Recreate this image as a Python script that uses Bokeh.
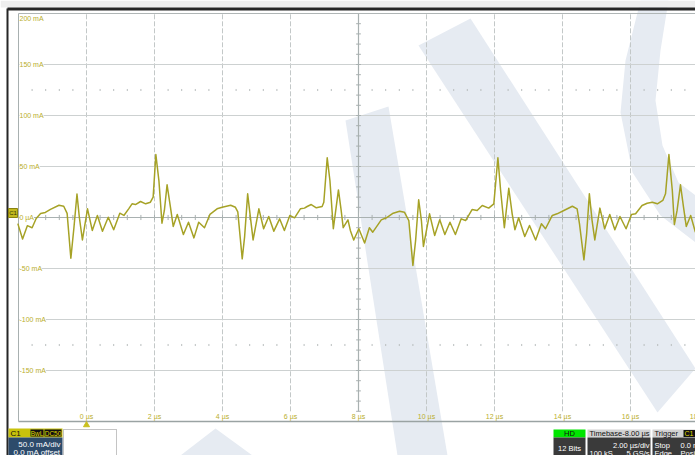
import numpy as np
from bokeh.plotting import figure
from bokeh.models import Range1d, ColumnDataSource, LabelSet
from bokeh.core.properties import value
from bokeh.embed import file_html
from bokeh.resources import INLINE

W, H = 695, 455

# ---------------- data ----------------
time_us = [-2.02, -1.88, -1.74, -1.60, -1.48, -1.35, -1.21, -1.06, -0.81, -0.67, -0.57, -0.46, -0.37, -0.28, -0.21,
           -0.12, 0.03, 0.17, 0.32, 0.47, 0.64, 0.80, 0.98, 1.10, 1.24, 1.34, 1.44, 1.59, 1.74, 1.88, 1.96, 2.04,
           2.13, 2.22, 2.29, 2.37, 2.47, 2.55, 2.67, 2.85, 3.00, 3.16, 3.30, 3.47, 3.63, 3.84, 3.99, 4.24, 4.38,
           4.45, 4.58, 4.65, 4.74, 4.82, 4.90, 5.07, 5.21, 5.36, 5.51, 5.68, 5.82, 5.98, 6.12, 6.29, 6.41, 6.49,
           6.61, 6.76, 6.93, 6.98, 7.08, 7.16, 7.26, 7.41, 7.49, 7.55, 7.69, 7.76, 7.86, 8.01, 8.18, 8.32, 8.42,
           8.67, 8.82, 9.02, 9.21, 9.35, 9.48, 9.60, 9.68, 9.77, 9.85, 9.91, 10.09, 10.24, 10.39, 10.54, 10.69,
           10.85, 11.02, 11.15, 11.34, 11.49, 11.64, 11.83, 11.98, 12.10, 12.18, 12.29, 12.42, 12.52, 12.60, 12.71,
           12.89, 13.03, 13.21, 13.38, 13.50, 13.70, 13.84, 14.04, 14.29, 14.43, 14.50, 14.63, 14.71, 14.79, 14.87,
           14.95, 15.10, 15.24, 15.39, 15.54, 15.69, 15.87, 16.03, 16.15, 16.34, 16.49, 16.64, 16.79, 16.95, 17.03,
           17.13, 17.23, 17.29, 17.37, 17.47, 17.56, 17.64, 17.77, 17.91]
current_mA = [-6, -21, -8, -10, -1, 4, 5, 8, 12, 11, 4, -40, -10, 23, 0,
              -22, 8.5, -12.7, 2, -13.4, 0.3, -12, 4.2, 2, 8.5, 13.4, 12.7, 15.7, 13.4, 15, 20, 61.7,
              36, -5.6, 6.9, 32, 10, -8.8, 3, -16.7, -4.6, -20, -4.6, -10, 3, 8.5, 10, 12, 10,
              5.5, -40.5, -19, 23.2, 0.3, -22, 8.5, -11, 1, -13.4, -1.3, -12.7, 2, -0.3, 8.5, 9.2, 10.8,
              12.7, 9.5, 10.8, 15, 58.5, 36, -11, 27, 6.9, -10, -2.3, -12.7, -22, -11, -25, -10, -14.4,
              -2.3, -0.3, 4.2, 6.2, 5.2, -3, -47, -22.5, 17.3, -3, -28.4, 3.6, -17.6, -2.3, -16.7, -4.6,
              -16.7, -1.3, -3, 7.8, 6.9, 11.8, 9.2, 13.4, 58.5, 26.5, -10, 28.7, 3.6, -12, -0.3,
              -18.6, -7.8, -22, -6.2, -11, 2, 3.6, 6.9, 11, 8.5, -6.2, -41.5, -16, 23.2, -3,
              -22, 9.2, -11, 3, -12, 1, -11, 3, 3.6, 11.8, 14, 15, 13.4, 16.7, 23.2,
              61.7, 26.5, -6.9, 6.9, 32, 10, -8.8, 2, -14.4]

y_ticks = [200, 150, 100, 50, 0, -50, -100, -150]
y_labels = ["200 mA", "150 mA", "100 mA", "50 mA", "0 µA", "-50 mA", "-100 mA", "-150 mA"]
x_ticks = [0, 2, 4, 6, 8, 10, 12, 14, 16, 18]
x_labels = ["0 µs", "2 µs", "4 µs", "6 µs", "8 µs", "10 µs", "12 µs", "14 µs", "16 µs", "18 µs"]

t_min, t_max, t_div = -2.0, 18.0, 2.0
i_min, i_max, i_div = -200.0, 200.0, 50.0
trigger_time = 0.0
center_time = 8.0

# ---------------- geometry (pixel <-> data) ----------------
X0_PX, PX_PER_US = 86.0, 34.0
Y0_PX, PX_PER_MA = 217.0, 51.0 / 50.0


def X(px):
    return (px - X0_PX) / PX_PER_US


def Y(py):
    return (Y0_PX - py) / PX_PER_MA


p = figure(width=W, height=H, output_backend="svg", toolbar_location=None,
           x_range=Range1d(X(0), X(W)), y_range=Range1d(Y(H), Y(0)),
           min_border=0, min_border_left=0, min_border_right=0, min_border_top=0, min_border_bottom=0)
p.axis.visible = False
p.grid.visible = False
p.outline_line_color = None
p.background_fill_color = "white"
p.border_fill_color = "white"

FONT = value("Liberation Sans")
LBL = "#b9ae2c"
TRACE = "#a6a226"
WM = "#e6ebf2"

# ---------------- watermark (decoration) ----------------
wm_polys_px = [
    [(345, 120), (388, 106), (447, 455), (397, 455)],
    [(418, 45), (470, 18), (695, 368), (657, 412)],
    [(640, 0), (668, 0), (660, 50), (655, 100), (662, 145), (678, 182), (695, 195), (695, 242),
     (660, 215), (632, 172), (620, 112), (625, 60)],
    [(180, 455), (215, 428), (252, 455)],
]
p.patches([[X(a) for a, b in poly] for poly in wm_polys_px],
          [[Y(b) for a, b in poly] for poly in wm_polys_px],
          fill_color=WM, line_color=None)

# ---------------- grid ----------------
v_grid = list(np.arange(t_min, t_max + 0.01, t_div))
p.segment(x0=v_grid, x1=v_grid, y0=[i_min + 10] * len(v_grid), y1=[i_max] * len(v_grid),
          line_color="#c3c8c8", line_width=1, line_dash="5 2")
h_grid = [v for v in np.arange(i_min + i_div, i_max, i_div) if v != 0]
p.segment(x0=[t_min] * len(h_grid), x1=[t_max] * len(h_grid), y0=h_grid, y1=h_grid,
          line_color="#cdd1d1", line_width=1)

# dotted rows at +/-125 mA (minor subdivisions)
minor_t = [t for t in np.arange(t_min, t_max + 0.01, t_div / 5) if abs(t / t_div - round(t / t_div)) > 1e-6]
for lvl in (125.0, -125.0):
    p.segment(x0=minor_t, x1=minor_t, y0=[lvl - 1] * len(minor_t), y1=[lvl + 1] * len(minor_t),
              line_color="#b9bebe", line_width=1)

# center axes with minor ticks
p.segment(x0=[t_min], x1=[t_max], y0=[0], y1=[0], line_color="#a9b1b1", line_width=1.2)
p.segment(x0=[center_time], x1=[center_time], y0=[i_min + 10], y1=[i_max], line_color="#a9b1b1", line_width=1.2)
all_minor_t = list(np.arange(t_min, t_max + 0.01, t_div / 5))
p.segment(x0=all_minor_t, x1=all_minor_t, y0=[-2.5] * len(all_minor_t), y1=[2.5] * len(all_minor_t),
          line_color="#a9b1b1", line_width=1)
minor_i = list(np.arange(i_min, i_max + 0.01, i_div / 5))
p.segment(x0=[center_time - 0.07] * len(minor_i), x1=[center_time + 0.07] * len(minor_i), y0=minor_i, y1=minor_i,
          line_color="#a9b1b1", line_width=1)

# plot borders
p.segment(x0=[t_min], x1=[t_min], y0=[i_min], y1=[i_max], line_color="#a8b0b0", line_width=1)
p.segment(x0=[t_min], x1=[X(W)], y0=[i_max], y1=[i_max], line_color="#b0b6b6", line_width=1)
p.segment(x0=[t_min], x1=[X(W)], y0=[i_min], y1=[i_min], line_color="#9aa3a3", line_width=1.5)

# outer dark frame
p.quad(left=[X(0)], right=[X(W)], top=[Y(0)], bottom=[Y(7)], fill_color="#eeeeee", line_color=None)
p.segment(x0=[X(7)], x1=[X(W)], y0=[Y(8.5)], y1=[Y(8.5)], line_color="#262626", line_width=3)
p.segment(x0=[X(7)], x1=[X(7)], y0=[Y(8)], y1=[Y(H)], line_color="#262626", line_width=2)

# ---------------- trace ----------------
p.line(time_us, current_mA, line_color=TRACE, line_width=1.5, line_join="round")

# ---------------- axis labels ----------------
ylab_y = [min(v, i_max - 5) for v in y_ticks]
ysrc = ColumnDataSource(dict(x=[X(19)] * len(y_ticks), y=ylab_y, t=y_labels))
p.add_layout(LabelSet(x="x", y="y", text="t", source=ysrc, text_font=FONT, text_font_size="7px",
                      text_color=LBL, text_align="left", text_baseline="middle",
                      background_fill_color="white", x_offset=0, y_offset=0))
p.text(x=x_ticks, y=[Y(416)] * len(x_ticks), text=x_labels, text_font=FONT, text_font_size="7px",
       text_color=LBL, text_align="center", text_baseline="middle")

# channel marker at 0 level
p.quad(left=[X(8)], right=[X(17)], top=[Y(208)], bottom=[Y(217)], fill_color="#c2b91e", line_color="#8a8410")
p.text(x=[X(12.5)], y=[Y(212.5)], text=["C1"], text_font=FONT, text_font_size="6px",
       text_color="#333300", text_align="center", text_baseline="middle")

# trigger marker
p.triangle(x=[trigger_time], y=[Y(424.5)], size=6, fill_color="#c9c020", line_color="#c9c020")

# ---------------- status bar (decoration) ----------------
# C1 descriptor
p.quad(left=[X(8)], right=[X(62)], top=[Y(428)], bottom=[Y(437)], fill_color="#c8c20c", line_color=None)
p.quad(left=[X(8)], right=[X(62)], top=[Y(437)], bottom=[Y(H)], fill_color="#2d4b6b", line_color=None)
p.quad(left=[X(30), X(44)], right=[X(43), X(61)], top=[Y(429)] * 2, bottom=[Y(436)] * 2,
       fill_color="#111111", line_color=None)
p.text(x=[X(10)], y=[Y(432.5)], text=["C1"], text_font=FONT, text_font_size="8px",
       text_color="#111111", text_align="left", text_baseline="middle")
p.text(x=[X(36.5), X(52.5)], y=[Y(432.5)] * 2, text=["BwL", "DC50"], text_font=FONT,
       text_font_size="6.5px", text_color="#e0d800", text_align="center", text_baseline="middle")
p.text(x=[X(60), X(60)], y=[Y(444), Y(452)], text=["50.0 mA/div", "0.0 mA offset"], text_font=FONT,
       text_font_size="8px", text_color="white", text_align="right", text_baseline="middle")
p.quad(left=[X(63)], right=[X(116)], top=[Y(429)], bottom=[Y(H + 2)], fill_color=None,
       line_color="#888888", line_dash="1 1", line_width=1)

# HD box
p.quad(left=[X(553)], right=[X(585)], top=[Y(429)], bottom=[Y(437)], fill_color="#00e600", line_color=None)
p.quad(left=[X(553)], right=[X(585)], top=[Y(437)], bottom=[Y(H)], fill_color="#3a3a3a", line_color=None)
p.text(x=[X(569)], y=[Y(433)], text=["HD"], text_font=FONT, text_font_size="7.5px",
       text_color="#111111", text_align="center", text_baseline="middle")
p.text(x=[X(569)], y=[Y(448)], text=["12 Bits"], text_font=FONT, text_font_size="7.5px",
       text_color="white", text_align="center", text_baseline="middle")

# Timebase box
p.quad(left=[X(587)], right=[X(650)], top=[Y(429)], bottom=[Y(437)], fill_color="#d2d2d2", line_color=None)
p.quad(left=[X(587)], right=[X(650)], top=[Y(437)], bottom=[Y(H)], fill_color="#3a3a3a", line_color=None)
p.text(x=[X(589)], y=[Y(433)], text=["Timebase"], text_font=FONT, text_font_size="7.5px",
       text_color="#111111", text_align="left", text_baseline="middle")
p.text(x=[X(649)], y=[Y(433)], text=["-8.00 µs"], text_font=FONT, text_font_size="7.5px",
       text_color="#111111", text_align="right", text_baseline="middle")
p.text(x=[X(649)], y=[Y(445)], text=["2.00 µs/div"], text_font=FONT, text_font_size="7.5px",
       text_color="white", text_align="right", text_baseline="middle")
p.text(x=[X(589)], y=[Y(453)], text=["100 kS"], text_font=FONT,
       text_font_size="7.5px", text_color="white", text_align="left", text_baseline="middle")
p.text(x=[X(649)], y=[Y(453)], text=["5 GS/s"], text_font=FONT,
       text_font_size="7.5px", text_color="white", text_align="right", text_baseline="middle")

# Trigger box
p.quad(left=[X(652)], right=[X(W)], top=[Y(429)], bottom=[Y(437)], fill_color="#d2d2d2", line_color=None)
p.quad(left=[X(652)], right=[X(W)], top=[Y(437)], bottom=[Y(H)], fill_color="#3a3a3a", line_color=None)
p.quad(left=[X(683)], right=[X(W)], top=[Y(429.5)], bottom=[Y(436.5)], fill_color="#111111", line_color=None)
p.text(x=[X(654)], y=[Y(433)], text=["Trigger"], text_font=FONT, text_font_size="7.5px",
       text_color="#111111", text_align="left", text_baseline="middle")
p.text(x=[X(684)], y=[Y(433)], text=["C1 DC"], text_font=FONT, text_font_size="7px",
       text_color="#e0d800", text_align="left", text_baseline="middle")
p.text(x=[X(654), X(654)], y=[Y(445), Y(453)], text=["Stop", "Edge"], text_font=FONT,
       text_font_size="7.5px", text_color="white", text_align="left", text_baseline="middle")
p.text(x=[X(680), X(680)], y=[Y(445), Y(453)], text=["0.0 mA", "Positive"], text_font=FONT,
       text_font_size="7.5px", text_color="white", text_align="left", text_baseline="middle")

open("out.html", "w").write(file_html(p, INLINE))
